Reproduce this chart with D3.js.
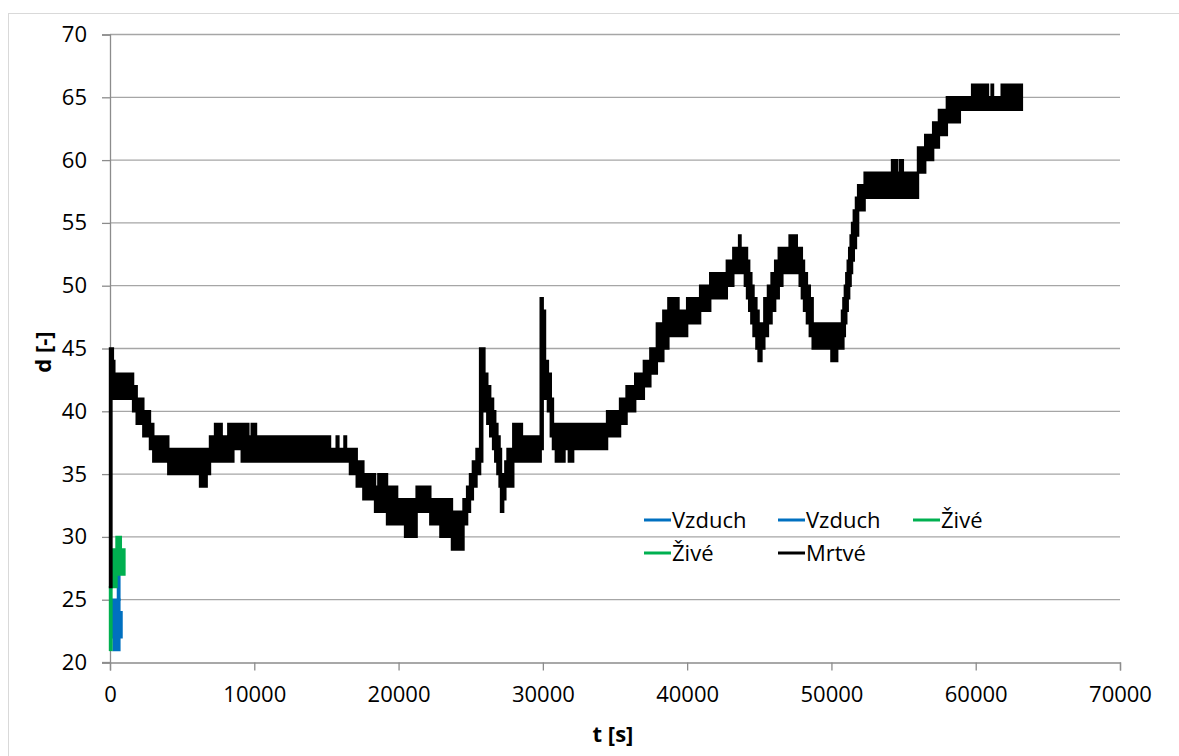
<!DOCTYPE html>
<html>
<head>
<meta charset="utf-8">
<script src="https://cdn.jsdelivr.net/npm/d3@7"></script>
<style>
  body { margin: 0; background: #fff; }
  svg { display: block; font-family: "Open Sans", "Noto Sans", sans-serif; }
</style>
</head>
<body>
<svg width="1179" height="756"></svg>
<script>
// x ticks / y ticks
const xTicks = [0, 10000, 20000, 30000, 40000, 50000, 60000, 70000];
const yTicks = [20, 25, 30, 35, 40, 45, 50, 55, 60, 65, 70];

// each row: [t, lower d, upper d] -- noisy signal drawn as its envelope, step after t
const vzduch1 = [[150, 22, 25], [250, 21, 25], [650, 22, 24], [800, 22, 24]];
const vzduch2 = [[550, 25, 27], [650, 25, 27]];
const zive1 = [[100, 26, 29], [450, 27, 30], [750, 27, 29], [1000, 27, 29]];
const zive2 = [[0, 21, 26], [100, 21, 26]];
const mrtve = [
  [0, 26, 45], [100, 41, 45], [200, 41, 44], [300, 41, 43], [1600, 40, 42],
  [1850, 39, 41], [2310, 38, 40], [2770, 37, 39], [3000, 36, 38], [4040, 35, 37],
  [6240, 34, 37], [6700, 35, 37], [6930, 36, 38], [7280, 36, 39], [7740, 36, 38],
  [8200, 36, 39], [8550, 37, 39], [9130, 36, 39], [9590, 36, 38], [9820, 36, 39],
  [10120, 36, 38], [15250, 36, 37], [15710, 36, 38], [15830, 36, 37], [16250, 36, 38],
  [16360, 36, 37], [16630, 35, 37], [17100, 34, 36], [17560, 33, 35], [18370, 32, 34],
  [18600, 32, 35], [19200, 31, 34], [19900, 31, 33], [20450, 30, 33], [21250, 32, 34],
  [22200, 31, 33], [22900, 30, 33], [23700, 29, 32], [24500, 31, 33], [24750, 32, 34],
  [24950, 33, 35], [25150, 34, 36], [25400, 35, 37], [25650, 36, 45], [25800, 41, 45],
  [25950, 40, 43], [26150, 39, 42], [26350, 38, 41], [26550, 37, 40], [26700, 36, 39],
  [26850, 35, 38], [27000, 34, 37], [27100, 32, 35], [27250, 33, 35], [27400, 34, 36],
  [27550, 34, 37], [27950, 36, 39], [28550, 36, 38], [29850, 37, 49], [29990, 43, 48],
  [30150, 41, 44], [30350, 40, 43], [30550, 38, 41], [30700, 37, 39], [30900, 36, 39],
  [31500, 37, 39], [31800, 36, 39], [32100, 37, 39], [34450, 38, 40], [35350, 39, 41],
  [35800, 40, 42], [36400, 41, 43], [37000, 42, 44], [37450, 43, 45], [37900, 44, 47],
  [38350, 45, 48], [38700, 46, 49], [39400, 46, 48], [40000, 47, 49], [40900, 48, 50],
  [41600, 49, 51], [42750, 50, 52], [43200, 51, 53], [43600, 51, 54], [43700, 51, 53],
  [44000, 50, 53], [44150, 49, 52], [44300, 48, 51], [44450, 47, 50], [44600, 46, 49],
  [44800, 45, 48], [44950, 44, 47], [45150, 45, 47], [45350, 46, 49], [45600, 47, 50],
  [45850, 48, 51], [46100, 49, 52], [46350, 50, 53], [46600, 51, 53], [47100, 51, 54],
  [47600, 51, 53], [47800, 50, 53], [47950, 49, 52], [48100, 48, 51], [48300, 47, 50],
  [48500, 46, 49], [48700, 45, 47], [50000, 44, 47], [50400, 45, 47], [50730, 45, 48],
  [50830, 46, 49], [50930, 47, 50], [51030, 48, 51], [51130, 49, 52], [51230, 50, 53],
  [51330, 51, 54], [51430, 52, 55], [51550, 53, 56], [51700, 54, 57], [51850, 56, 58],
  [52300, 57, 59], [54200, 57, 60], [54550, 57, 59], [54750, 57, 60], [54950, 57, 59],
  [56000, 59, 61], [56500, 60, 62], [57050, 61, 63], [57450, 62, 64], [58000, 63, 65],
  [58900, 64, 65], [59750, 64, 66], [60850, 64, 65], [61100, 64, 66], [61200, 64, 65],
  [61800, 64, 66], [63200, 64, 66]
];

const series = [
  { name: 'Vzduch', color: '#0070c0', data: vzduch1 },
  { name: 'Vzduch', color: '#0070c0', data: vzduch2 },
  { name: 'Živé', color: '#00b050', data: zive1 },
  { name: 'Živé', color: '#00b050', data: zive2 },
  { name: 'Mrtvé', color: '#000000', data: mrtve }
];

const svg = d3.select('svg');

// outer chart frame
svg.append('rect')
  .attr('x', 8.5).attr('y', 13.5)
  .attr('width', 1200).attr('height', 800)
  .attr('fill', 'none').attr('stroke', '#d9d9d9');

const plotL = 110, plotR = 1120, plotT = 34.5, plotB = 662.5;
const x = d3.scaleLinear().domain([0, 70000]).range([plotL, plotR]);
const y = d3.scaleLinear().domain([20, 70]).range([plotB, plotT]);

// grid
svg.append('g').selectAll('line').data(yTicks.slice(1)).join('line')
  .attr('x1', plotL).attr('x2', plotR)
  .attr('y1', d => y(d)).attr('y2', d => y(d))
  .attr('stroke', '#a6a6a6').attr('stroke-width', 1.3);

// axes
const axisY = svg.append('g')
  .attr('transform', 'translate(' + plotL + ',0)')
  .call(d3.axisLeft(y).tickValues(yTicks).tickSize(8).tickPadding(15).tickFormat(d3.format('d')));
const axisX = svg.append('g')
  .attr('transform', 'translate(0,' + plotB + ')')
  .call(d3.axisBottom(x).tickValues(xTicks).tickSize(8).tickPadding(16).tickFormat(d3.format('d')));
[axisX, axisY].forEach(a => {
  a.select('.domain').attr('stroke', '#8c8c8c').attr('stroke-width', 1.3);
  a.selectAll('.tick line').attr('stroke', '#8c8c8c').attr('stroke-width', 1.3);
  a.selectAll('.tick text').attr('font-size', 22).attr('fill', '#000')
    .style('font-family', '"Open Sans", "Noto Sans", sans-serif');
});
// x axis line reaches the left tick like in Excel
svg.append('line')
  .attr('x1', plotL - 8).attr('x2', plotL)
  .attr('y1', plotB).attr('y2', plotB)
  .attr('stroke', '#8c8c8c').attr('stroke-width', 1.3);

// data bands
const band = d3.area()
  .curve(d3.curveStepAfter)
  .x(d => x(d[0]))
  .y0(d => y(d[1]))
  .y1(d => y(d[2]));

svg.append('g').selectAll('path').data(series).join('path')
  .attr('d', d => band(d.data))
  .attr('fill', d => d.color)
  .attr('stroke', d => d.color)
  .attr('stroke-width', 2.4)
  .attr('stroke-linejoin', 'miter');

// axis titles
svg.append('text')
  .attr('x', 613).attr('y', 742)
  .attr('text-anchor', 'middle')
  .attr('font-size', 22).attr('font-weight', 'bold')
  .text('t [s]');
svg.append('text')
  .attr('transform', 'translate(51,352) rotate(-90)')
  .attr('text-anchor', 'middle')
  .attr('font-size', 22).attr('font-weight', 'bold')
  .text('d [-]');

// legend
const legX = [644, 778, 913], legY = [520, 553];
const leg = svg.append('g').selectAll('g').data(series).join('g')
  .attr('transform', (d, i) => 'translate(' + legX[i % 3] + ',' + legY[Math.floor(i / 3)] + ')');
leg.append('line')
  .attr('x1', 0).attr('x2', 27)
  .attr('stroke', d => d.color).attr('stroke-width', 3);
leg.append('text')
  .attr('x', 28).attr('dy', '0.35em')
  .attr('font-size', 22)
  .text(d => d.name);
</script>
</body>
</html>
